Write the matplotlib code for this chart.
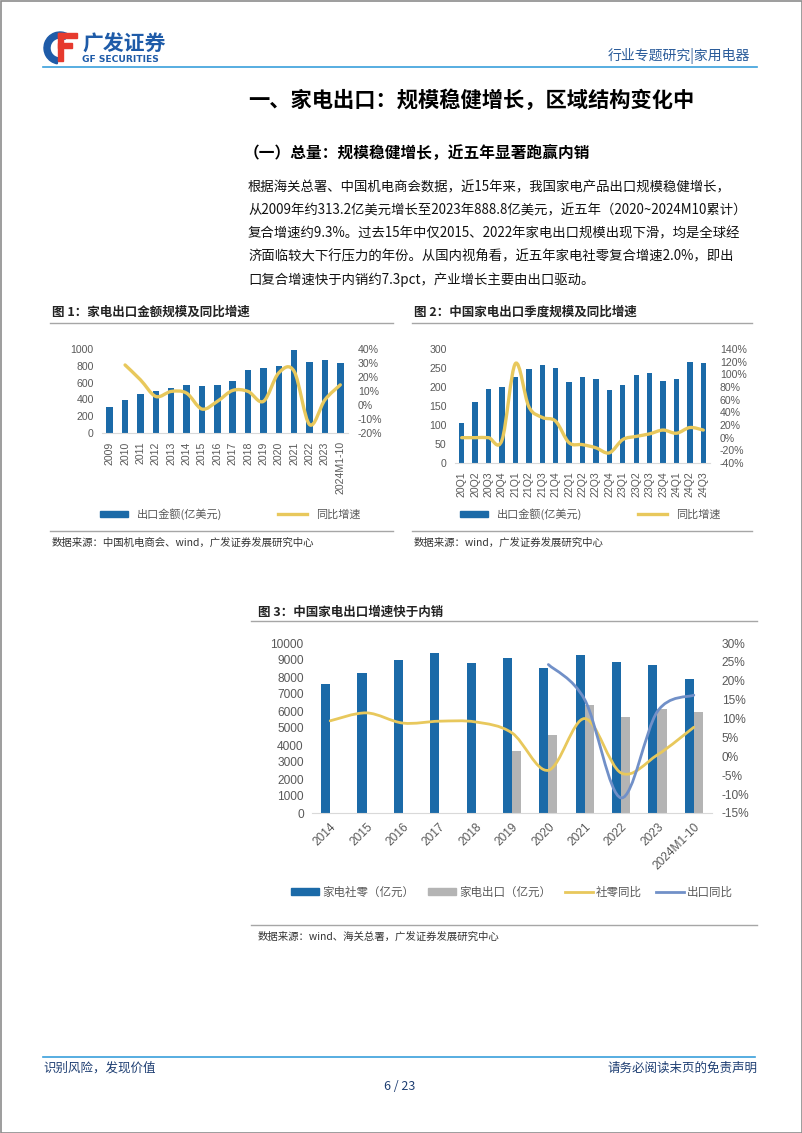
import numpy as np
import matplotlib
matplotlib.use('Agg')
import matplotlib.pyplot as plt
from matplotlib.path import Path
from matplotlib.patches import PathPatch, Rectangle, Wedge
from matplotlib.lines import Line2D

plt.rcParams['font.family'] = ['Noto Sans CJK SC', 'DejaVu Sans']

# chart 1: annual export value (100m USD) and yoy (%)
years1 = ['2009', '2010', '2011', '2012', '2013', '2014', '2015', '2016', '2017',
          '2018', '2019', '2020', '2021', '2022', '2023', '2024M1-10']
export1 = [313, 395, 470, 500, 530, 570, 560, 570, 615, 745, 770, 800, 985, 845, 875, 830]
yoy1 = [None, 28.6, 18.0, 6.1, 9.7, 8.5, -2.9, 2.6, 10.4, 9.7, 2.6, 23.0, 24.0, -14.0, 3.7, 14.4]

# chart 2: quarterly export value and yoy (%)
quarters = ['20Q1', '20Q2', '20Q3', '20Q4', '21Q1', '21Q2', '21Q3', '21Q4', '22Q1', '22Q2',
            '22Q3', '22Q4', '23Q1', '23Q2', '23Q3', '23Q4', '24Q1', '24Q2', '24Q3']
export2 = [104, 161, 196, 199, 227, 247, 259, 251, 214, 225, 221, 192, 205, 231, 236, 215, 222, 267, 262]
yoy2 = [0, 0, 0, -4, 117, 49, 32, 26, -8, -11, -16, -24, -3, 2, 6, 12, 7, 16, 12]

# chart 3: retail vs export (100m CNY) and yoy (%)
years3 = ['2014', '2015', '2016', '2017', '2018', '2019', '2020', '2021', '2022', '2023', '2024M1-10']
retail3 = [7590, 8255, 9000, 9430, 8840, 9120, 8550, 9310, 8860, 8700, 7900]
export3 = [None, None, None, None, None, 3670, 4570, 6370, 5670, 6140, 5940]
retail_yoy3 = [9.4, 11.5, 8.8, 9.3, 9.1, 6.2, -3.7, 10.0, -4.4, 0.4, 7.7]
export_yoy3 = [None, None, None, None, None, None, 24.3, 15.0, -11.0, 11.9, 16.2]

BLUE = '#1B6AA8'
GREY = '#B4B4B4'
YELLOW = '#E8C85C'
LBLUE = '#7190C8'
TICK = '#595959'
NAVY = '#1F3F73'

W, H = 802, 1133
fig = plt.figure(figsize=(W / 100, H / 100), dpi=100)

page = fig.add_axes([0, 0, 1, 1])
page.set_xlim(0, W)
page.set_ylim(H, 0)
page.axis('off')


def px_axes(x0, y0, x1, y1):
    return fig.add_axes([x0 / W, 1 - y1 / H, (x1 - x0) / W, (y1 - y0) / H])


def smooth(ax, xs, ys, color, lw):
    # excel style smoothed line through the points (bezier segments)
    pts = [(x, y) for x, y in zip(xs, ys) if y is not None]
    px = [p[0] for p in pts]
    py = [p[1] for p in pts]
    n = len(pts)
    verts = [(px[0], py[0])]
    codes = [Path.MOVETO]
    for i in range(n - 1):
        a = i - 1 if i > 0 else i
        b = i + 2 if i + 2 < n else i + 1
        c1 = (px[i] + (px[i + 1] - px[a]) / 6, py[i] + (py[i + 1] - py[a]) / 6)
        c2 = (px[i + 1] - (px[b] - px[i]) / 6, py[i + 1] - (py[b] - py[i]) / 6)
        verts += [c1, c2, (px[i + 1], py[i + 1])]
        codes += [Path.CURVE4] * 3
    ax.add_patch(PathPatch(Path(verts, codes), fill=False, edgecolor=color, lw=lw,
                           capstyle='round', joinstyle='round', zorder=3))


def style(ax, ax2, size):
    for s in ['top', 'left', 'right']:
        ax.spines[s].set_visible(False)
    for s in ['top', 'left', 'right', 'bottom']:
        ax2.spines[s].set_visible(False)
    ax.spines['bottom'].set_color('#D9D9D9')
    ax.tick_params(length=0, colors=TICK, labelsize=size, pad=6,
                   labelfontfamily='Liberation Sans')
    ax2.tick_params(length=0, colors=TICK, labelsize=size, pad=7,
                    labelfontfamily='Liberation Sans')


def pct(v, pos):
    return f'{v:.0f}%'


# ---------- chart 1 ----------
ax1 = px_axes(102, 349, 348, 433)
x1 = np.arange(len(years1))
ax1.bar(x1, export1, width=0.42, color=BLUE, zorder=2)
ax1.set_xlim(-0.5, len(years1) - 0.5)
ax1.set_ylim(0, 1000)
ax1.set_yticks(range(0, 1001, 200))
ax1.set_xticks(x1)
ax1.set_xticklabels(years1, rotation=90, va='top')
ax1b = ax1.twinx()
ax1b.set_ylim(-20, 40)
ax1b.set_yticks(range(-20, 41, 10))
ax1b.yaxis.set_major_formatter(pct)
smooth(ax1b, x1, yoy1, YELLOW, 2.4)
style(ax1, ax1b, 7.6)
ax1.legend([Rectangle((0, 0), 1, 1, color=BLUE), Line2D([], [], color=YELLOW, lw=2.4)],
           ['出口金额(亿美元)', '同比增速'], loc='center', ncol=2, frameon=False,
           bbox_to_anchor=(230 / W, 1 - 514 / H), bbox_transform=fig.transFigure,
           fontsize=8, handlelength=2.6, handleheight=0.5, columnspacing=5.0,
           labelcolor=TICK)

# ---------- chart 2 ----------
ax2 = px_axes(455, 349, 710, 463)
x2 = np.arange(len(quarters))
ax2.bar(x2, export2, width=0.4, color=BLUE, zorder=2)
ax2.set_xlim(-0.5, len(quarters) - 0.5)
ax2.set_ylim(0, 300)
ax2.set_yticks(range(0, 301, 50))
ax2.set_xticks(x2)
ax2.set_xticklabels(quarters, rotation=90, va='top')
ax2b = ax2.twinx()
ax2b.set_ylim(-40, 140)
ax2b.set_yticks(range(-40, 141, 20))
ax2b.yaxis.set_major_formatter(pct)
smooth(ax2b, x2, yoy2, YELLOW, 2.4)
style(ax2, ax2b, 7.6)
ax2.legend([Rectangle((0, 0), 1, 1, color=BLUE), Line2D([], [], color=YELLOW, lw=2.4)],
           ['出口金额(亿美元)', '同比增速'], loc='center', ncol=2, frameon=False,
           bbox_to_anchor=(590 / W, 1 - 514 / H), bbox_transform=fig.transFigure,
           fontsize=8, handlelength=2.6, handleheight=0.5, columnspacing=5.0,
           labelcolor=TICK)

# ---------- chart 3 ----------
ax3 = px_axes(312, 643, 712, 813)
x3 = np.arange(len(years3))
bw = 0.25
ax3.bar(x3 - bw / 2, retail3, width=bw, color=BLUE, zorder=2)
exp_x = [x + bw / 2 for x, v in zip(x3, export3) if v is not None]
exp_v = [v for v in export3 if v is not None]
ax3.bar(exp_x, exp_v, width=bw, color=GREY, zorder=2)
ax3.set_xlim(-0.5, len(years3) - 0.5)
ax3.set_ylim(0, 10000)
ax3.set_yticks(range(0, 10001, 1000))
ax3.set_xticks(x3)
ax3.set_xticklabels(years3, rotation=45, ha='right', rotation_mode='anchor')
ax3b = ax3.twinx()
ax3b.set_ylim(-15, 30)
ax3b.set_yticks(range(-15, 31, 5))
ax3b.yaxis.set_major_formatter(pct)
smooth(ax3b, x3, retail_yoy3, YELLOW, 2.0)
smooth(ax3b, x3, export_yoy3, LBLUE, 2.0)
style(ax3, ax3b, 8.6)
ax3.legend([Rectangle((0, 0), 1, 1, color=BLUE), Rectangle((0, 0), 1, 1, color=GREY),
            Line2D([], [], color=YELLOW, lw=2), Line2D([], [], color=LBLUE, lw=2)],
           ['家电社零（亿元）', '家电出口（亿元）', '社零同比', '出口同比'],
           loc='center', ncol=4, frameon=False,
           bbox_to_anchor=(512 / W, 1 - 892 / H), bbox_transform=fig.transFigure,
           fontsize=8.3, handlelength=2.4, handleheight=0.5, columnspacing=1.2,
           handletextpad=0.3, labelcolor=TICK)

# ---------- page furniture ----------
# logo
page.add_patch(Wedge((60, 48), 16, 100, 300, width=6, color='#1E5BA8'))
page.add_patch(Rectangle((58, 33), 19, 5, color='#E63A2E'))
page.add_patch(Rectangle((58, 43), 14, 5, color='#E63A2E'))
page.add_patch(Rectangle((58, 33), 5, 28, color='#E63A2E'))
page.text(82, 44, '广发证券', fontsize=15, fontweight='bold', color='#1E5BA8', va='center')
page.text(82, 60, 'GF SECURITIES', fontsize=6.6, fontweight='bold', color='#1E5BA8',
          va='center', family=['DejaVu Sans'])
page.text(750, 56, '行业专题研究|家用电器', fontsize=10, color='#2B5C9A', ha='right', va='center')
page.plot([43, 757], [67, 67], color='#3AA0DC', lw=1.2)

page.text(248, 100, '一、家电出口：规模稳健增长，区域结构变化中', fontsize=15.3,
          fontweight='bold', va='center', color='black')
page.text(244, 154, '（一）总量：规模稳健增长，近五年显著跑赢内销', fontsize=11.3,
          fontweight='bold', va='center', color='black')

body = [
    '根据海关总署、中国机电商会数据，近15年来，我国家电产品出口规模稳健增长，',
    '从2009年约313.2亿美元增长至2023年888.8亿美元，近五年（2020~2024M10累计）',
    '复合增速约9.3%。过去15年中仅2015、2022年家电出口规模出现下滑，均是全球经',
    '济面临较大下行压力的年份。从国内视角看，近五年家电社零复合增速2.0%，即出',
    '口复合增速快于内销约7.3pct，产业增长主要由出口驱动。',
]
for i, line in enumerate(body):
    page.text(248, 187 + i * 23.2, line, fontsize=9.6, va='center', color='#111111')

# figure titles and source lines
page.text(52, 312, '图 1：家电出口金额规模及同比增速', fontsize=9, fontweight='bold',
          va='center', color='#222222')
page.text(414, 312, '图 2：中国家电出口季度规模及同比增速', fontsize=9, fontweight='bold',
          va='center', color='#222222')
page.plot([50, 393], [323, 323], color='#A6A6A6', lw=1)
page.plot([412, 752], [323, 323], color='#A6A6A6', lw=1)
page.plot([50, 393], [531, 531], color='#A6A6A6', lw=1)
page.plot([412, 752], [531, 531], color='#A6A6A6', lw=1)
page.text(52, 543, '数据来源：中国机电商会、wind，广发证券发展研究中心', fontsize=7.5,
          va='center', color='#333333')
page.text(414, 543, '数据来源：wind，广发证券发展研究中心', fontsize=7.5,
          va='center', color='#333333')

page.text(258, 612, '图 3：中国家电出口增速快于内销', fontsize=9, fontweight='bold',
          va='center', color='#222222')
page.plot([251, 757], [621, 621], color='#A6A6A6', lw=1)
page.plot([251, 757], [925, 925], color='#A6A6A6', lw=1)
page.text(258, 937, '数据来源：wind、海关总署，广发证券发展研究中心', fontsize=7.5,
          va='center', color='#333333')

# footer
page.plot([43, 755], [1057, 1057], color='#3AA0DC', lw=1.2)
page.text(43, 1068, '识别风险，发现价值', fontsize=9, color=NAVY, va='center')
page.text(757, 1068, '请务必阅读末页的免责声明', fontsize=9, color=NAVY, va='center', ha='right')
page.text(400, 1086, '6 / 23', fontsize=9, color=NAVY, va='center', ha='center')

page.add_patch(Rectangle((0.5, 0.5), W - 1, H - 1, fill=False, edgecolor='#8C8C8C', lw=1.2))

fig.savefig('out.png', dpi=100)
